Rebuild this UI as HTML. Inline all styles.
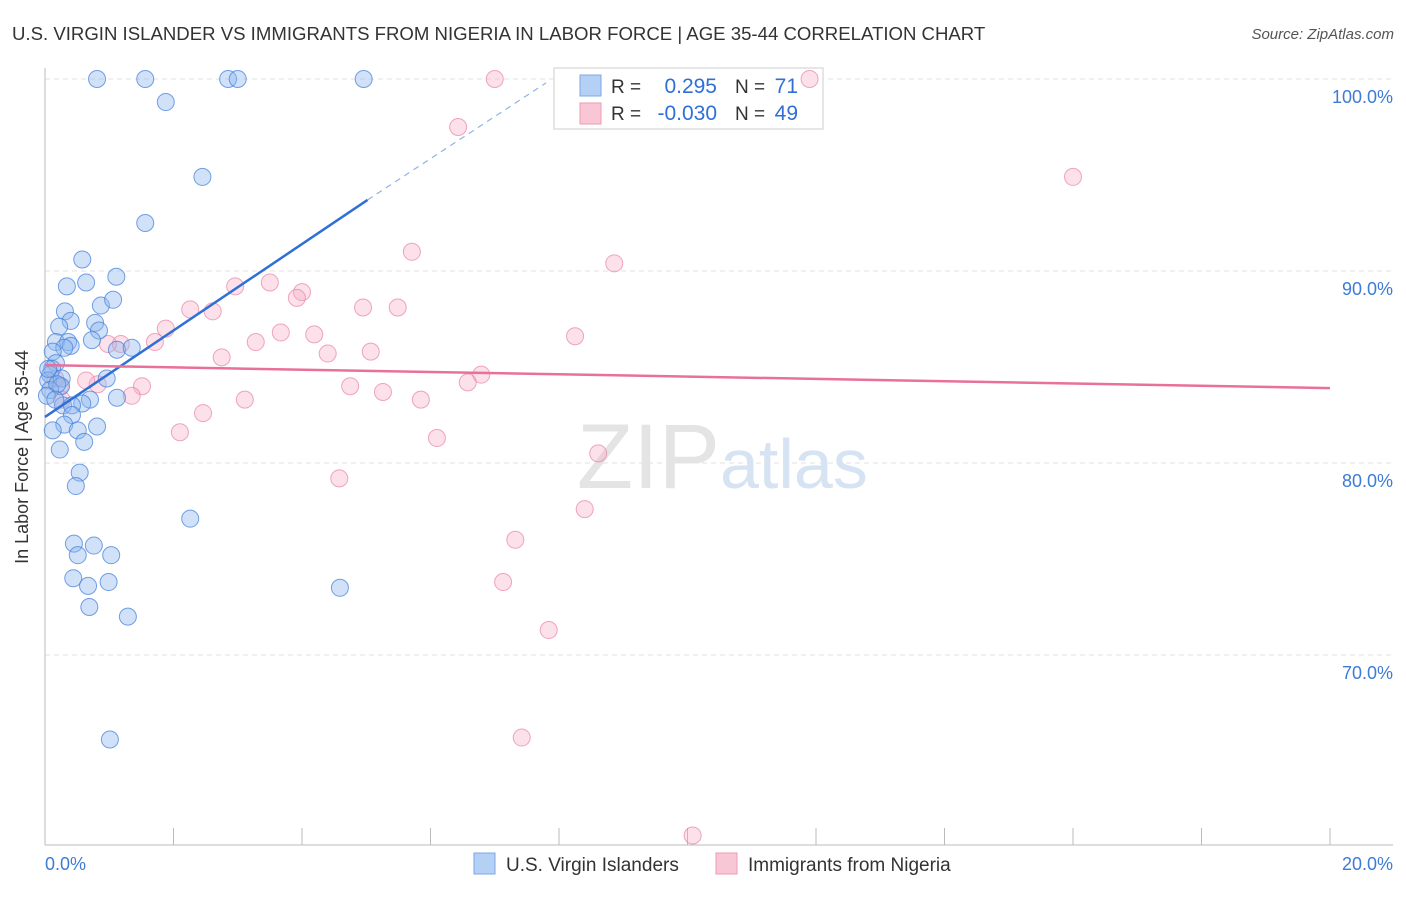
<!DOCTYPE html>
<html><head><meta charset="utf-8"><style>
body{margin:0;background:#fff;font-family:"Liberation Sans",sans-serif;}
svg text{font-family:"Liberation Sans",sans-serif;}
</style></head><body>
<svg id="chart" width="1406" height="892">
<text x="12" y="40" font-size="18.6" fill="#333">U.S. VIRGIN ISLANDER VS IMMIGRANTS FROM NIGERIA IN LABOR FORCE | AGE 35-44 CORRELATION CHART</text>
<text x="1394" y="39" font-size="15" fill="#555" font-style="italic" text-anchor="end">Source: ZipAtlas.com</text>
<g id="grid"></g>
<text x="720" y="488" font-size="92" fill="#e4e4e4" font-family="Liberation Serif" text-anchor="end">ZIP</text>
<text x="720" y="488" font-size="70" fill="#d6e3f3">atlas</text>
<g>
<rect x="554" y="68" width="269" height="61" fill="#fff" stroke="#ddd" stroke-width="1.5"/>
<rect x="580" y="75" width="21" height="21" fill="#b5d0f5" stroke="#7aa7e6"/>
<rect x="580" y="103" width="21" height="21" fill="#f9c6d5" stroke="#ee9ab5"/>
<text x="611" y="93" font-size="19" fill="#333">R =</text>
<text x="717" y="93" font-size="21" fill="#2f6fd6" text-anchor="end">0.295</text>
<text x="735" y="93" font-size="19" fill="#333">N =</text>
<text x="798" y="93" font-size="21" fill="#2f6fd6" text-anchor="end">71</text>
<text x="611" y="120" font-size="19" fill="#333">R =</text>
<text x="717" y="120" font-size="21" fill="#2f6fd6" text-anchor="end">-0.030</text>
<text x="735" y="120" font-size="19" fill="#333">N =</text>
<text x="798" y="120" font-size="21" fill="#2f6fd6" text-anchor="end">49</text>
</g>
<g id="pts"></g>
<g id="lines"></g>
<text x="28" y="457" font-size="18" fill="#333" text-anchor="middle" transform="rotate(-90 28 457)">In Labor Force | Age 35-44</text>
<text x="45" y="870" font-size="18" fill="#3d7bd6">0.0%</text>
<text x="1393" y="870" font-size="18" fill="#3d7bd6" text-anchor="end">20.0%</text>
<g>
<rect x="474" y="853" width="21" height="21" fill="#b5d0f5" stroke="#7aa7e6"/>
<text x="506" y="871" font-size="19" fill="#333">U.S. Virgin Islanders</text>
<rect x="716" y="853" width="21" height="21" fill="#f9c6d5" stroke="#ee9ab5"/>
<text x="748" y="871" font-size="19" fill="#333">Immigrants from Nigeria</text>
</g>
</svg>
<script>
const yTicks=[100,90,80,70];
const yTickLabels=["100.0%","90.0%","80.0%","70.0%"];
const blueX=[0.81,1.56,2.85,3.00,4.96,1.88,2.45,1.56,0.58,1.11,0.64,0.34,0.87,1.06,0.31,0.78,0.40,0.22,0.84,0.73,0.17,0.36,0.40,0.30,1.12,1.35,0.12,0.17,0.11,0.08,0.05,0.96,0.26,0.25,0.08,1.12,0.70,0.58,0.28,0.42,0.42,0.30,0.12,0.51,0.81,0.61,0.23,0.54,0.48,2.26,0.45,0.76,0.51,1.03,0.44,0.67,0.99,0.69,1.29,4.59,1.01,0.05,0.19,0.03,0.16];
const blueY=[100,100,100,100,100,98.8,94.9,92.5,90.6,89.7,89.4,89.2,88.2,88.5,87.9,87.3,87.4,87.1,86.9,86.4,86.3,86.3,86.1,86.0,85.9,86.0,85.8,85.2,84.9,84.6,84.3,84.4,84.4,84.0,83.8,83.4,83.3,83.1,83.0,83.0,82.5,82.0,81.7,81.7,81.9,81.1,80.7,79.5,78.8,77.1,75.8,75.7,75.2,75.2,74.0,73.6,73.8,72.5,72.0,73.5,65.6,84.9,84.1,83.5,83.3];
const pinkX=[7.0,11.9,6.43,16.0,5.71,8.86,3.50,2.96,4.00,3.92,2.26,2.61,4.95,5.49,1.88,1.71,1.18,0.98,3.28,3.67,4.19,4.40,5.07,2.75,8.25,6.79,6.58,4.75,5.26,5.85,3.11,1.51,1.35,0.82,0.64,0.23,0.16,2.46,2.10,6.10,8.61,4.58,8.40,7.32,7.13,7.84,7.42,10.08,0.26];
const pinkY=[100,100,97.5,94.9,91.0,90.4,89.4,89.2,88.9,88.6,88.0,87.9,88.1,88.1,87.0,86.3,86.2,86.2,86.3,86.8,86.7,85.7,85.8,85.5,86.6,84.6,84.2,84.0,83.7,83.3,83.3,84.0,83.5,84.1,84.3,84.0,84.4,82.6,81.6,81.3,80.5,79.2,77.6,76.0,73.8,71.3,65.7,60.6,83.3];
const blueTrend=[0,82.4,5.02,93.7,7.8,99.8];
const pinkTrend=[0,85.1,20,83.9];
const X=v=>45+v*64.25, Y=v=>79+(100-v)*19.2;
const NS="http://www.w3.org/2000/svg";
function mk(p,tag,a){const e=document.createElementNS(NS,tag);for(const k in a)e.setAttribute(k,a[k]);p.appendChild(e);return e;}
const grid=document.getElementById('grid');
yTicks.forEach((t,i)=>{
 const l=mk(grid,'line',{x1:45,x2:1393,y1:Y(t),y2:Y(t),stroke:'#e2e2e2','stroke-dasharray':'5,4'});
 
 
 const tx=mk(grid,'text',{x:1393,y:Y(t)+24,'font-size':18,fill:'#3d7bd6','text-anchor':'end'});
 tx.textContent=yTickLabels[i];
 
 
});
const ax=mk(grid,'line',{x1:45,x2:45,y1:68,y2:845,stroke:'#bbb'});


const bx=mk(grid,'line',{x1:45,x2:1393,y1:845,y2:845,stroke:'#bbb'});


for(let i=1;i<=10;i++){
 const t=mk(grid,'line',{x1:X(i*2),x2:X(i*2),y1:828,y2:845,stroke:'#bbb'});
 
 
}
const pts=document.getElementById('pts');
pinkX.forEach((x,i)=>{
 const c=mk(pts,'circle',{cx:X(x),cy:Y(pinkY[i]),r:8.5,fill:'rgba(246,170,196,0.35)',stroke:'rgba(232,130,165,0.7)','stroke-width':1});
 
 
});
blueX.forEach((x,i)=>{
 const c=mk(pts,'circle',{cx:X(x),cy:Y(blueY[i]),r:8.5,fill:'rgba(140,182,238,0.4)',stroke:'rgba(70,130,220,0.75)','stroke-width':1});
 
 
});
const lines=document.getElementById('lines');
const b1=mk(lines,'line',{x1:X(blueTrend[0]),y1:Y(blueTrend[1]),x2:X(blueTrend[2]),y2:Y(blueTrend[3]),stroke:'#2f6fd6','stroke-width':2.5});


const b2=mk(lines,'line',{x1:X(blueTrend[2]),y1:Y(blueTrend[3]),x2:X(blueTrend[4]),y2:Y(blueTrend[5]),stroke:'#8fb3e8','stroke-width':1.2,'stroke-dasharray':'6,5'});


const p1=mk(lines,'line',{x1:X(pinkTrend[0]),y1:Y(pinkTrend[1]),x2:X(pinkTrend[2]),y2:Y(pinkTrend[3]),stroke:'#e8709a','stroke-width':2.5});


</script>
</body></html>
